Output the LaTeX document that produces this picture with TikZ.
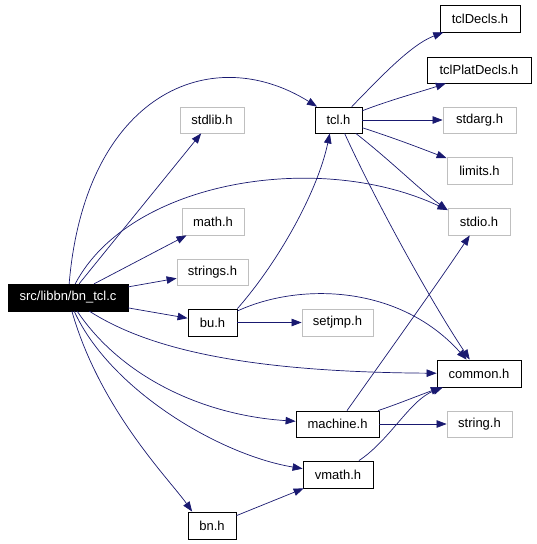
\documentclass[tikz,border=0pt]{standalone}
\usepackage{fontspec}
\setmainfont{Liberation Sans}
\usetikzlibrary{arrows.meta}
\definecolor{edgeblue}{RGB}{25,25,112}
\definecolor{graybd}{RGB}{191,191,191}
\begin{document}
\begin{tikzpicture}[x=1pt,y=-1pt,
  font=\fontsize{13}{15}\selectfont,
  box/.style={draw=black,line width=0.8pt,fill=white,inner sep=0pt,text=black},
  gbox/.style={draw=graybd,line width=0.8pt,fill=white,inner sep=0pt,text=black},
  mainbox/.style={draw=black,fill=black,text=white,inner sep=0pt},
  edge/.style={draw=edgeblue,line width=0.7pt,-{Triangle[length=10pt,width=7.5pt]}}]
\useasboundingbox (0,0) rectangle (536,544);
% nodes
\node[mainbox,minimum width=120pt,minimum height=27pt] (main) at (68,297.5) {src/libbn/bn\_tcl.c};
\node[gbox,minimum width=64pt,minimum height=26pt] (stdlib) at (212,120) {stdlib.h};
\node[box,minimum width=47pt,minimum height=26pt] (tcl) at (338.5,120) {tcl.h};
\node[box,minimum width=80pt,minimum height=27pt] (tclDecls) at (480,18.5) {tclDecls.h};
\node[box,minimum width=104pt,minimum height=26pt] (tclPlat) at (479,70) {tclPlatDecls.h};
\node[gbox,minimum width=73pt,minimum height=26pt] (stdarg) at (479.5,120) {stdarg.h};
\node[gbox,minimum width=65pt,minimum height=27pt] (limits) at (479.5,170.5) {limits.h};
\node[gbox,minimum width=62pt,minimum height=27pt] (stdio) at (479,221.5) {stdio.h};
\node[gbox,minimum width=62pt,minimum height=27pt] (math) at (213,221.5) {math.h};
\node[gbox,minimum width=71pt,minimum height=26pt] (strings) at (212.5,272) {strings.h};
\node[box,minimum width=49pt,minimum height=27pt] (bu) at (212.5,322.5) {bu.h};
\node[gbox,minimum width=71pt,minimum height=27pt] (setjmp) at (337.5,322.5) {setjmp.h};
\node[box,minimum width=84pt,minimum height=27pt] (common) at (479,373.5) {common.h};
\node[box,minimum width=83pt,minimum height=26pt] (machine) at (337.5,424) {machine.h};
\node[gbox,minimum width=65pt,minimum height=26pt] (string) at (479.5,424) {string.h};
\node[box,minimum width=70pt,minimum height=27pt] (vmath) at (338,474.5) {vmath.h};
\node[box,minimum width=48pt,minimum height=27pt] (bn) at (212,525.5) {bn.h};
% edges from main
\draw[edge] (main) .. controls (85,95) and (210,40) .. (tcl);
\draw[edge] (main) -- (stdlib);
\draw[edge] (main) .. controls (130,180) and (320,150) .. (stdio.160);
\draw[edge] (main) -- (math);
\draw[edge] (main) -- (strings);
\draw[edge] (main) -- (bu);
\draw[edge] (main) .. controls (150,350) and (250,372) .. (common);
\draw[edge] (main) .. controls (120,375) and (200,415) .. (machine);
\draw[edge] (main) .. controls (110,390) and (220,455) .. (vmath);
\draw[edge] (main) .. controls (100,410) and (170,480) .. (bn.145);
% bn
\draw[edge] (bn) -- (vmath);
% bu
\draw[edge] (bu.north east) .. controls (280,260) and (318,190) .. (tcl.237);
\draw[edge] (bu) .. controls (300,282) and (400,285) .. (common);
\draw[edge] (bu) -- (setjmp);
% tcl
\draw[edge] (tcl) .. controls (378,80) and (410,45) .. (tclDecls);
\draw[edge] (tcl) .. controls (390,100) and (420,92) .. (tclPlat.202);
\draw[edge] (tcl) -- (stdarg);
\draw[edge] (tcl) .. controls (400,140) and (425,150) .. (limits);
\draw[edge] (tcl) .. controls (390,160) and (420,190) .. (stdio.160);
\draw[edge] (tcl) .. controls (375,200) and (430,300) .. (common);
% machine
\draw[edge] (machine) .. controls (390,350) and (440,280) .. (stdio);
\draw[edge] (machine) .. controls (395,405) and (420,395) .. (common);
\draw[edge] (machine) -- (string);
% vmath
\draw[edge] (vmath) .. controls (390,440) and (410,400) .. (common);
\end{tikzpicture}
\end{document}
